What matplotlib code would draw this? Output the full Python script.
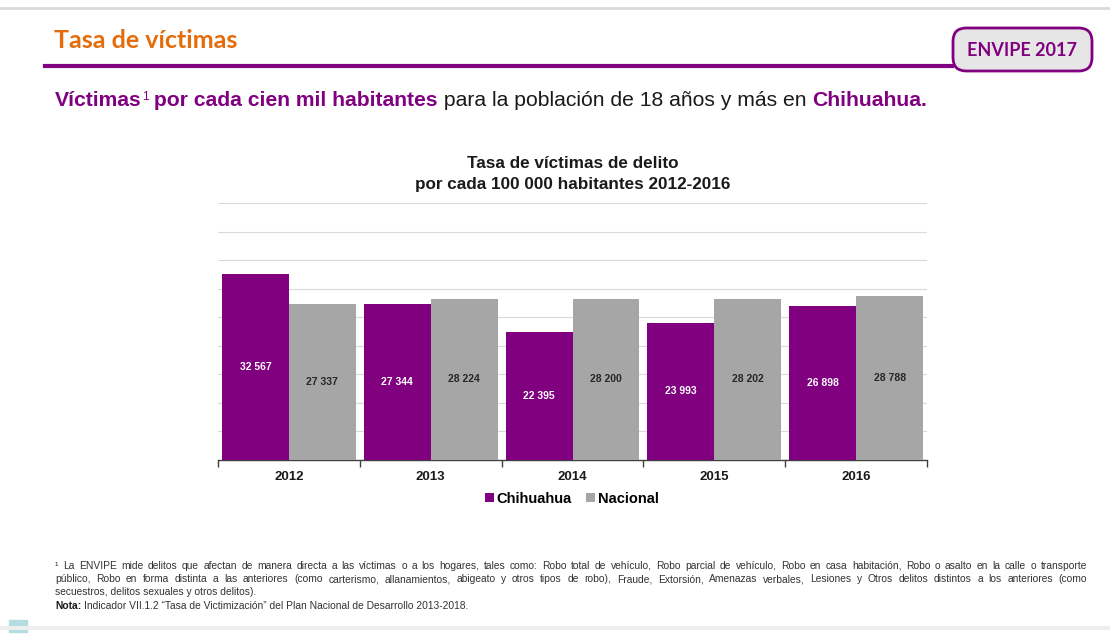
import matplotlib
matplotlib.use("Agg")
import matplotlib.pyplot as plt
from matplotlib.patches import FancyBboxPatch, Rectangle
from matplotlib.lines import Line2D

years = ["2012", "2013", "2014", "2015", "2016"]
chihuahua = [32567, 27344, 22395, 23993, 26898]
nacional = [27337, 28224, 28200, 28202, 28788]
series_names = ["Chihuahua", "Nacional"]

PURPLE = "#800080"
GRAY = "#a6a6a6"
ORANGE = "#e46c0a"

W, H = 1110, 634
fig = plt.figure(figsize=(W / 100, H / 100), dpi=100)
fig.patch.set_facecolor("white")
FONT = ["Liberation Sans", "DejaVu Sans"]
plt.rcParams["font.family"] = FONT


def fx(px):
    return px / W


def fy(py):
    return 1 - py / H


renderer = fig.canvas.get_renderer()


def text_width(t):
    bb = t.get_window_extent(renderer=renderer)
    return bb.width


# --- header ---
fig.add_artist(Line2D([fx(0), fx(1110)], [fy(8), fy(8)], color="#d9d9d9", lw=2))
fig.text(fx(54), fy(40), "Tasa de víctimas", color=ORANGE, fontsize=18,
         fontweight="bold", family=["Lato", "DejaVu Sans"], va="center", ha="left")
fig.add_artist(Line2D([fx(45), fx(952)], [fy(66), fy(66)], color=PURPLE, lw=3))
box = FancyBboxPatch((fx(953), fy(71)), fx(1092 - 953), fy(28) - fy(71),
                     boxstyle="round,pad=0,rounding_size=0.012",
                     transform=fig.transFigure, facecolor="#e6e6e6",
                     edgecolor=PURPLE, lw=2, mutation_aspect=W / H)
fig.add_artist(box)
fig.text(fx(1022), fy(50), "ENVIPE 2017", color=PURPLE, fontsize=13,
         fontweight="bold", family=["Lato", "DejaVu Sans"], va="center", ha="center")

# --- subtitle (runs) ---
runs = [("Víctimas", PURPLE, "bold", 15.2, 0),
        ("1", PURPLE, "normal", 8.5, 4),
        (" por cada cien mil habitantes", PURPLE, "bold", 15.2, 0),
        (" para la población de 18 años y más en ", "#1a1a1a", "normal", 15.2, 0),
        ("Chihuahua.", PURPLE, "bold", 15.2, 0)]
x = 55
for s, c, w, fs, dy in runs:
    t = fig.text(fx(x), fy(101) + dy / H, s, color=c, fontweight=w, fontsize=fs,
                 va="center", ha="left")
    x += text_width(t)

# --- chart ---
ax = fig.add_axes([fx(218), fy(460), fx(927 - 218), fy(203) - fy(460)])
ax.set_xlim(-0.5, len(years) - 0.5)
ax.set_ylim(0, 45000)
bw = 0.472
xs = list(range(len(years)))
b1 = ax.bar([i - bw / 2 for i in xs], chihuahua, width=bw, color=PURPLE, zorder=3)
b2 = ax.bar([i + bw / 2 for i in xs], nacional, width=bw, color=GRAY, zorder=3)
for i in xs:
    ax.text(i - bw / 2, chihuahua[i] / 2, f"{chihuahua[i]:,}".replace(",", " "),
            ha="center", va="center", color="white", fontsize=7.5, fontweight="bold", zorder=4)
    ax.text(i + bw / 2, nacional[i] / 2, f"{nacional[i]:,}".replace(",", " "),
            ha="center", va="center", color="#262626", fontsize=7.5, fontweight="bold", zorder=4)
ax.set_yticks(range(0, 45001, 5000))
ax.yaxis.grid(True, color="#d9d9d9", lw=0.8, zorder=0)
ax.tick_params(axis="y", length=0, labelleft=False)
for sp in ["top", "right", "left"]:
    ax.spines[sp].set_visible(False)
ax.spines["bottom"].set_color("#404040")
ax.spines["bottom"].set_linewidth(1)
ax.set_xticks([i - 0.5 for i in range(len(years) + 1)])
ax.set_xticklabels([])
ax.tick_params(axis="x", length=5, color="#404040", width=1)
for i, yv in enumerate(years):
    ax.text(i, -0.066, yv, transform=ax.get_xaxis_transform(), ha="center", va="center",
            fontsize=9.5, fontweight="bold", color="#1a1a1a")

fig.text(fx(573), fy(164), "Tasa de víctimas de delito", ha="center", va="center",
         fontsize=12.3, fontweight="bold", color="#1a1a1a")
fig.text(fx(573), fy(185), "por cada 100 000 habitantes 2012-2016", ha="center", va="center",
         fontsize=12.3, fontweight="bold", color="#1a1a1a")

# legend
leg = ax.legend([b1, b2], series_names, loc="center", bbox_to_anchor=(fx(572), fy(499)),
                bbox_transform=fig.transFigure, ncol=2, frameon=False,
                handlelength=0.6, handleheight=0.6, handletextpad=0.2, columnspacing=1.0,
                prop={"weight": "bold", "size": 10.5, "family": FONT})

# --- footnote ---
fn_lines = [
    "¹ La ENVIPE mide delitos que afectan de manera directa a las víctimas o a los hogares, tales como: Robo total de vehículo, Robo parcial de vehículo, Robo en casa habitación, Robo o asalto en la calle o transporte",
    "público, Robo en forma distinta a las anteriores (como carterismo, allanamientos, abigeato y otros tipos de robo), Fraude, Extorsión, Amenazas verbales, Lesiones y Otros delitos distintos a los anteriores (como",
    "secuestros, delitos sexuales y otros delitos).",
]
fn_y = [566, 579, 592]
FN_FS = 7.4
x0, x1 = 55, 1087
for k, (line, yy) in enumerate(zip(fn_lines, fn_y)):
    words = line.split(" ")
    if k < 2:
        ts = [fig.text(0, fy(yy), w_, fontsize=FN_FS, color="#333333", va="center", ha="left")
              for w_ in words]
        widths = [text_width(t) for t in ts]
        gap = (x1 - x0 - sum(widths)) / (len(words) - 1)
        xx = x0
        for t, wd in zip(ts, widths):
            t.set_x(fx(xx))
            xx += wd + gap
    else:
        fig.text(fx(x0), fy(yy), line, fontsize=FN_FS, color="#333333", va="center", ha="left")
t = fig.text(fx(55), fy(606), "Nota:", fontsize=FN_FS, fontweight="bold", color="#1a1a1a",
             va="center", ha="left")
fig.text(fx(55) + text_width(t) / W + 3 / W, fy(606),
         "Indicador VII.1.2 \u201cTasa de Victimización\u201d del Plan Nacional de Desarrollo 2013-2018.",
         fontsize=FN_FS, color="#333333", va="center", ha="left")

# bottom strip
fig.add_artist(Line2D([fx(0), fx(1110)], [fy(628), fy(628)], color="#eeeeee", lw=3))
fig.add_artist(Rectangle((fx(9), fy(632)), fx(18), fy(620) - fy(632),
                         transform=fig.transFigure, color="#b3dde0"))

fig.savefig("out.png", dpi=100, facecolor="white")
